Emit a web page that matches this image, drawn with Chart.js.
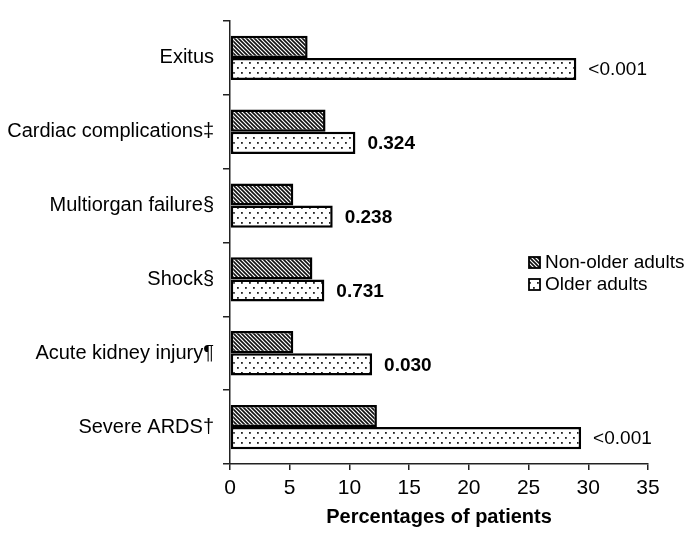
<!doctype html>
<html lang="en">
  <head>
    <meta charset="UTF-8" />
    <title>Complications by age group</title>
    <script src="https://cdn.jsdelivr.net/npm/chart.js"></script>
    <style>
      html,
      body {
        margin: 0;
        padding: 0;
        background: #fff;
      }
      #wrap {
        width: 695px;
        height: 536px;
      }
    </style>
  </head>
  <body>
    <div id="wrap"><canvas id="chart" width="695" height="536"></canvas></div>
    <script>
      // data
      const categories = [
        "Exitus",
        "Cardiac complications‡",
        "Multiorgan failure§",
        "Shock§",
        "Acute kidney injury¶",
        "Severe ARDS†",
      ];
      const seriesNames = ["Non-older adults", "Older adults"];
      const nonOlder = [6.5, 8.0, 5.3, 6.9, 5.3, 12.3];
      const older = [29.0, 10.5, 8.6, 7.9, 11.9, 29.4];
      const pValues = ["<0.001", "0.324", "0.238", "0.731", "0.030", "<0.001"];
      const xMin = 0;
      const xMax = 35;
      const xStep = 5;

      const FONT = "'Liberation Sans', Arial, sans-serif";

      // hatched fill: dense "\" stripes
      function makeHatch() {
        const c = document.createElement("canvas");
        c.width = 4;
        c.height = 4;
        const g = c.getContext("2d");
        g.fillStyle = "#fff";
        g.fillRect(0, 0, 4, 4);
        g.strokeStyle = "#111";
        g.lineWidth = 1.6;
        g.beginPath();
        g.moveTo(-1, -1); g.lineTo(5, 5);
        g.moveTo(-1, 3); g.lineTo(1, 5);
        g.moveTo(3, -1); g.lineTo(5, 1);
        g.stroke();
        return g.createPattern(c, "repeat");
      }

      // dotted fill: staggered small dots
      function makeDots() {
        const c = document.createElement("canvas");
        c.width = 8;
        c.height = 10;
        const g = c.getContext("2d");
        g.fillStyle = "#fff";
        g.fillRect(0, 0, 8, 10);
        g.fillStyle = "#222";
        g.fillRect(1, 2, 1.8, 1.8);
        g.fillRect(5, 7, 1.8, 1.8);
        return g.createPattern(c, "repeat");
      }

      const hatch = makeHatch();
      const dots = makeDots();

      // p-values next to the older-adults bars, plus the legend on the right
      const annotations = {
        id: "annotations",
        afterDatasetsDraw(chart) {
          const ctx = chart.ctx;
          const meta = chart.getDatasetMeta(1);
          ctx.save();
          ctx.fillStyle = "#000";
          ctx.textAlign = "left";
          ctx.textBaseline = "middle";
          meta.data.forEach((bar, i) => {
            const txt = pValues[i];
            const bold = txt.charAt(0) !== "<";
            ctx.font = (bold ? "bold " : "") + "19px " + FONT;
            ctx.fillText(txt, bar.x + 12, bar.y + 1);
          });

          // legend
          const lx = 529;
          const ly = [263, 285];
          chart.data.datasets.forEach((ds, i) => {
            ctx.fillStyle = ds.backgroundColor;
            ctx.fillRect(lx, ly[i] - 6, 11, 11);
            ctx.strokeStyle = "#000";
            ctx.lineWidth = 1.8;
            ctx.strokeRect(lx, ly[i] - 6, 11, 11);
            ctx.fillStyle = "#000";
            ctx.font = "19px " + FONT;
            ctx.fillText(ds.label, lx + 16, ly[i]);
          });
          ctx.restore();
        },
      };

      new Chart(document.getElementById("chart"), {
        type: "bar",
        data: {
          labels: categories,
          datasets: [
            {
              label: seriesNames[0],
              data: nonOlder,
              backgroundColor: hatch,
              borderColor: "#000",
              borderWidth: 2.5,
              borderSkipped: false,
            },
            {
              label: seriesNames[1],
              data: older,
              backgroundColor: dots,
              borderColor: "#000",
              borderWidth: 2.5,
              borderSkipped: false,
            },
          ],
        },
        options: {
          indexAxis: "y",
          responsive: false,
          animation: false,
          devicePixelRatio: 1,
          layout: { padding: { top: 4, right: 47, left: 0, bottom: 0 } },
          datasets: {
            bar: { categoryPercentage: 0.6, barPercentage: 1.0 },
          },
          plugins: {
            legend: { display: false },
            tooltip: { enabled: false },
          },
          scales: {
            x: {
              min: xMin,
              max: xMax,
              afterFit: (s) => { s.height = 72; },
              border: { color: "#222", width: 1.5 },
              grid: {
                drawOnChartArea: false,
                tickLength: 6,
                color: "#222",
                lineWidth: 1.5,
              },
              ticks: {
                stepSize: xStep,
                padding: 6,
                color: "#000",
                font: { family: FONT, size: 21 },
              },
              title: {
                display: true,
                text: "Percentages of patients",
                color: "#000",
                padding: { top: 0, bottom: 7 },
                font: { family: FONT, size: 20, weight: "bold" },
              },
            },
            y: {
              afterFit: (s) => { s.width = 230; },
              border: { color: "#222", width: 1.5 },
              grid: {
                offset: true,
                drawOnChartArea: false,
                tickLength: 7,
                color: "#222",
                lineWidth: 1.5,
              },
              ticks: {
                padding: 9,
                color: "#000",
                font: { family: FONT, size: 20 },
              },
            },
          },
        },
        plugins: [annotations],
      });
    </script>
  </body>
</html>
